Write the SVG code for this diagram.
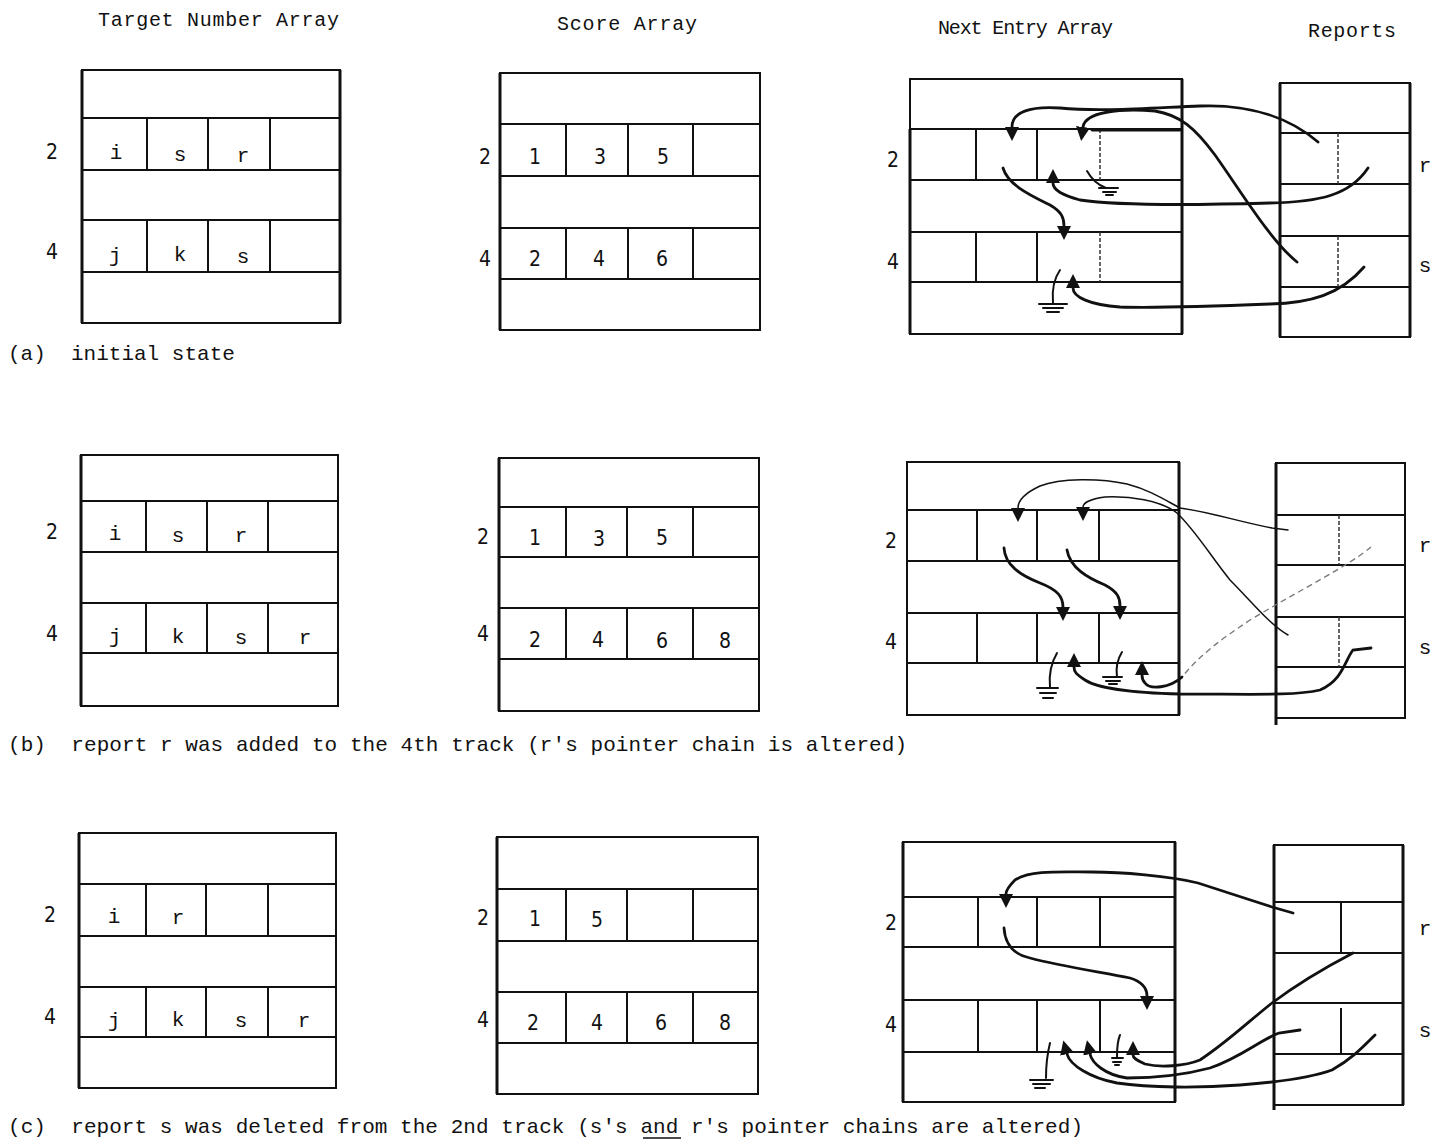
<svg xmlns="http://www.w3.org/2000/svg" width="1435" height="1141" viewBox="0 0 1435 1141">
<style>
.bg{fill:#fff}
.box{fill:none;stroke:#111;stroke-width:2}
.edge{fill:none;stroke:#111;stroke-width:3}
.ln{fill:none;stroke:#111;stroke-width:2}
.dl{fill:none;stroke:#333;stroke-width:1.5;stroke-dasharray:4 2}
.hd{font-family:"Liberation Mono","DejaVu Sans Mono",monospace;font-size:20px;fill:#111}
.cap{font-family:"Liberation Mono","DejaVu Sans Mono",monospace;font-size:21px;fill:#111;white-space:pre}
.t{font-family:"Liberation Mono","DejaVu Sans Mono",monospace;font-size:21px;fill:#111;text-anchor:middle}
.n{font-family:"Liberation Sans Narrow","DejaVu Sans Condensed","Liberation Sans",sans-serif;font-size:21px;fill:#111;text-anchor:middle}
.c{fill:none;stroke:#111;stroke-width:2.8;stroke-linecap:round}
.th{fill:none;stroke:#111;stroke-width:1.5;stroke-linecap:round}
.fa{fill:none;stroke:#777;stroke-width:1.3;stroke-dasharray:6 4}
.g{fill:none;stroke:#111;stroke-width:2;stroke-linecap:round}
</style>
<defs>
<marker id="ah" viewBox="0 0 10 10" refX="0" refY="5" markerUnits="userSpaceOnUse" markerWidth="14" markerHeight="15" orient="auto">
<path d="M0,0 L10,5 L0,10 z" fill="#111"/>
</marker>
</defs>
<rect class="bg" x="0" y="0" width="1435" height="1141"/>

<g id="headers">
<text class="hd" x="98" y="26" textLength="241">Target Number Array</text>
<text class="hd" x="557" y="30" textLength="140">Score Array</text>
<text class="hd" x="938" y="34" textLength="175">Next Entry Array</text>
<text class="hd" x="1308" y="37" textLength="88">Reports</text>
</g>

<g id="captions">
<text class="cap" x="8" y="360" xml:space="preserve">(a)  initial state</text>
<text class="cap" x="8" y="751" textLength="899" xml:space="preserve">(b)  report r was added to the 4th track (r's pointer chain is altered)</text>
<text class="cap" x="8" y="1133" textLength="1075" xml:space="preserve">(c)  report s was deleted from the 2nd track (s's and r's pointer chains are altered)</text>
<line class="ln" x1="643" y1="1138" x2="681" y2="1138" style="stroke-width:1.5"/>
</g>

<!-- (a) -->
<g id="a-target">
<rect class="box" x="82" y="70" width="258" height="253"/>
<path class="edge" d="M82,70 V323 M340,70 V323"/>
<path class="ln" d="M82,118 H340 M82,170 H340 M82,220 H340 M82,272 H340 M147,118 V170 M208,118 V170 M270,118 V170 M147,220 V272 M208,220 V272 M270,220 V272"/>
<text class="n" x="52" y="159">2</text><text class="n" x="52" y="259">4</text>
<text class="t" x="116" y="159">i</text><text class="t" x="180" y="161">s</text><text class="t" x="243" y="162">r</text>
<text class="t" x="115" y="262">j</text><text class="t" x="180" y="261">k</text><text class="t" x="243" y="263">s</text>
</g>
<g id="a-score">
<rect class="box" x="500" y="73" width="260" height="257"/>
<path class="edge" d="M500,73 V330"/>
<path class="ln" d="M500,124 H760 M500,176 H760 M500,228 H760 M500,279 H760 M566,124 V176 M628,124 V176 M693,124 V176 M566,228 V279 M628,228 V279 M693,228 V279"/>
<text class="n" x="485" y="164">2</text><text class="n" x="485" y="266">4</text>
<text class="n" x="535" y="164">1</text><text class="n" x="600" y="164">3</text><text class="n" x="663" y="164">5</text>
<text class="n" x="535" y="266">2</text><text class="n" x="599" y="266">4</text><text class="n" x="662" y="266">6</text>
</g>
<g id="a-next">
<rect class="box" x="910" y="79" width="272" height="255"/>
<path class="edge" d="M910,129 V334 M1182,79 V334"/>
<path class="ln" d="M910,129 H1182 M910,180 H1182 M910,232 H1182 M910,282 H1182 M976,129 V180 M1037,129 V180 M976,232 V282 M1037,232 V282"/>
<path class="dl" d="M1100,129 V180 M1100,232 V282"/>
<text class="n" x="893" y="167">2</text><text class="n" x="893" y="269">4</text>
</g>
<g id="a-reports">
<rect class="box" x="1280" y="83" width="130" height="254"/>
<path class="edge" d="M1280,83 V337 M1410,83 V337"/>
<path class="ln" d="M1280,133 H1410 M1280,184 H1410 M1280,236 H1410 M1280,287 H1410"/>
<path class="dl" d="M1338,133 V184 M1338,236 V287"/>
<text class="t" x="1425" y="172">r</text><text class="t" x="1425" y="272">s</text>
</g>

<!-- (b) -->
<g id="b-target">
<rect class="box" x="81" y="455" width="257" height="251"/>
<path class="edge" d="M81,455 V706"/>
<path class="ln" d="M81,501 H338 M81,552 H338 M81,603 H338 M81,653 H338 M146,501 V552 M207,501 V552 M268,501 V552 M146,603 V653 M207,603 V653 M268,603 V653"/>
<text class="n" x="52" y="539">2</text><text class="n" x="52" y="641">4</text>
<text class="t" x="115" y="540">i</text><text class="t" x="178" y="542">s</text><text class="t" x="241" y="542">r</text>
<text class="t" x="115" y="643">j</text><text class="t" x="178" y="643">k</text><text class="t" x="241" y="644">s</text><text class="t" x="305" y="644">r</text>
</g>
<g id="b-score">
<rect class="box" x="499" y="458" width="260" height="253"/>
<path class="edge" d="M499,458 V711"/>
<path class="ln" d="M499,507 H759 M499,557 H759 M499,608 H759 M499,659 H759 M566,507 V557 M627,507 V557 M693,507 V557 M566,608 V659 M627,608 V659 M693,608 V659"/>
<text class="n" x="483" y="544">2</text><text class="n" x="483" y="641">4</text>
<text class="n" x="535" y="545">1</text><text class="n" x="599" y="546">3</text><text class="n" x="662" y="545">5</text>
<text class="n" x="535" y="647">2</text><text class="n" x="598" y="647">4</text><text class="n" x="662" y="648">6</text><text class="n" x="725" y="648">8</text>
</g>
<g id="b-next">
<rect class="box" x="907" y="462" width="272" height="253"/>
<path class="edge" d="M1179,462 V715"/>
<path class="ln" d="M907,510 H1179 M907,561 H1179 M907,613 H1179 M907,663 H1179 M977,510 V561 M1037,510 V561 M1099,510 V561 M977,613 V663 M1037,613 V663 M1099,613 V663"/>
<text class="n" x="891" y="548">2</text><text class="n" x="891" y="649">4</text>
</g>
<g id="b-reports">
<rect class="box" x="1276" y="463" width="129" height="255"/>
<path class="edge" d="M1276,463 V725"/>
<path class="ln" d="M1276,515 H1405 M1276,565 H1405 M1276,617 H1405 M1276,667 H1405"/>
<path class="dl" d="M1339,515 V565 M1339,617 V667"/>
<text class="t" x="1425" y="552">r</text><text class="t" x="1425" y="654">s</text>
</g>

<!-- (c) -->
<g id="c-target">
<rect class="box" x="79" y="833" width="257" height="255"/>
<path class="edge" d="M79,833 V1088"/>
<path class="ln" d="M79,884 H336 M79,936 H336 M79,987 H336 M79,1037 H336 M146,884 V936 M206,884 V936 M268,884 V936 M146,987 V1037 M206,987 V1037 M268,987 V1037"/>
<text class="n" x="50" y="922">2</text><text class="n" x="50" y="1024">4</text>
<text class="t" x="114" y="923">i</text><text class="t" x="178" y="924">r</text>
<text class="t" x="114" y="1027">j</text><text class="t" x="178" y="1026">k</text><text class="t" x="241" y="1027">s</text><text class="t" x="304" y="1027">r</text>
</g>
<g id="c-score">
<rect class="box" x="497" y="837" width="261" height="257"/>
<path class="edge" d="M497,837 V1094"/>
<path class="ln" d="M497,889 H758 M497,941 H758 M497,992 H758 M497,1043 H758 M566,889 V941 M627,889 V941 M693,889 V941 M566,992 V1043 M627,992 V1043 M693,992 V1043"/>
<text class="n" x="483" y="925">2</text><text class="n" x="483" y="1027">4</text>
<text class="n" x="535" y="926">1</text><text class="n" x="597" y="927">5</text>
<text class="n" x="533" y="1030">2</text><text class="n" x="597" y="1030">4</text><text class="n" x="661" y="1030">6</text><text class="n" x="725" y="1030">8</text>
</g>
<g id="c-next">
<rect class="box" x="903" y="842" width="272" height="260"/>
<path class="edge" d="M903,842 V1102 M1175,842 V1102"/>
<path class="ln" d="M903,897 H1175 M903,947 H1175 M903,1000 H1175 M903,1052 H1175 M978,897 V947 M1037,897 V947 M1100,897 V947 M978,1000 V1052 M1037,1000 V1052 M1100,1000 V1052"/>
<text class="n" x="891" y="930">2</text><text class="n" x="891" y="1032">4</text>
</g>
<g id="c-reports">
<rect class="box" x="1274" y="845" width="129" height="260"/>
<path class="edge" d="M1274,845 V1110 M1403,845 V1105"/>
<path class="ln" d="M1274,902 H1403 M1274,953 H1403 M1274,1003 H1403 M1274,1054 H1403 M1341,902 V953 M1341,1008 V1054"/>
<text class="t" x="1425" y="935">r</text><text class="t" x="1425" y="1037">s</text>
</g>

<g id="connectors">
<!-- (a) -->
<path class="c" d="M1092,130 H1180"/>
<path class="c" marker-end="url(#ah)" d="M1318,142 C1290,118 1250,104 1200,106 C1150,108 1100,112 1060,108 C1030,106 1012,112 1012,127"/>
<path class="c" marker-end="url(#ah)" d="M1297,262 C1270,240 1240,190 1215,155 C1195,128 1180,115 1155,111 C1120,108 1085,112 1083,127"/>
<path class="c" marker-end="url(#ah)" d="M1368,168 C1350,195 1320,202 1270,203 C1200,205 1120,206 1080,200 C1062,195 1053,190 1053,183"/>
<path class="c" marker-end="url(#ah)" d="M1003,168 C1008,185 1030,195 1050,205 C1062,212 1064,218 1064,226"/>
<path class="c" marker-end="url(#ah)" d="M1364,267 C1340,295 1310,303 1270,304 C1220,306 1150,308 1120,307 C1090,305 1073,297 1073,288"/>
<path class="g" d="M1087,171 C1092,180 1098,185 1106,188 M1099,188 H1118 M1103,192 H1116 M1106,195 H1113"/>
<path class="g" d="M1060,270 C1053,280 1052,292 1053,303 M1039,304 H1067 M1043,308 H1063 M1047,312 H1059"/>
<!-- (b) -->
<path class="th" marker-end="url(#ah)" d="M1288,530 L1272,528 C1240,522 1210,512 1180,508 C1165,500 1150,490 1127,484 C1100,478 1060,478 1040,486 C1025,493 1018,500 1018,508"/>
<path class="th" marker-end="url(#ah)" d="M1288,635 C1270,625 1250,600 1230,580 C1210,555 1195,530 1177,513 C1160,500 1130,496 1105,497 C1090,499 1083,503 1083,507"/>
<path class="c" marker-end="url(#ah)" d="M1004,548 C1005,565 1020,575 1040,583 C1058,590 1063,597 1063,607"/>
<path class="c" marker-end="url(#ah)" d="M1067,550 C1070,568 1088,578 1105,585 C1118,592 1120,598 1120,606"/>
<path class="c" marker-end="url(#ah)" d="M1371,648 L1353,650 C1345,660 1343,680 1320,690 C1295,696 1250,694 1180,694 C1140,693 1100,690 1085,680 C1076,674 1074,672 1074,667"/>
<path class="fa" d="M1371,547 C1350,565 1300,590 1250,620 C1220,640 1200,655 1182,677"/>
<path class="c" marker-end="url(#ah)" d="M1182,677 C1170,688 1150,690 1145,683 C1142,680 1142,678 1142,675"/>
<path class="g" d="M1057,653 C1050,665 1049,677 1050,687 M1037,688 H1058 M1040,693 H1056 M1043,698 H1053"/>
<path class="g" d="M1122,652 C1117,660 1116,670 1117,677 M1103,677 H1122 M1106,681 H1120 M1109,684 H1117"/>
<!-- (c) -->
<path class="c" marker-end="url(#ah)" d="M1293,913 L1272,907 C1250,900 1220,890 1198,883 C1170,876 1120,872 1092,872 C1060,872 1030,870 1015,880 C1008,887 1006,892 1006,894"/>
<path class="c" marker-end="url(#ah)" d="M1004,928 C1005,945 1015,955 1030,958 C1060,966 1100,972 1130,978 C1143,982 1147,988 1147,996"/>
<path class="c" marker-end="url(#ah)" d="M1375,1035 C1360,1050 1350,1060 1332,1070 C1310,1078 1280,1082 1240,1085 C1200,1088 1150,1088 1117,1083 C1090,1078 1070,1065 1067,1054"/>
<path class="c" marker-end="url(#ah)" d="M1300,1030 L1279,1033 C1260,1040 1240,1058 1210,1068 C1180,1076 1150,1078 1127,1078 C1105,1075 1092,1063 1090,1054"/>
<path class="c" marker-end="url(#ah)" d="M1353,953 C1330,965 1300,982 1272,1003 C1250,1020 1230,1040 1200,1060 C1185,1066 1160,1068 1145,1064 C1136,1060 1133,1058 1133,1055"/>
<path class="g" d="M1050,1043 C1047,1055 1046,1068 1046,1078 M1030,1080 H1053 M1033,1084 H1050 M1035,1088 H1045"/>
<path class="g" d="M1120,1035 C1117,1042 1117,1050 1117,1057 M1112,1058 H1123 M1113,1062 H1121 M1115,1065 H1119"/>
</g>
</svg>
